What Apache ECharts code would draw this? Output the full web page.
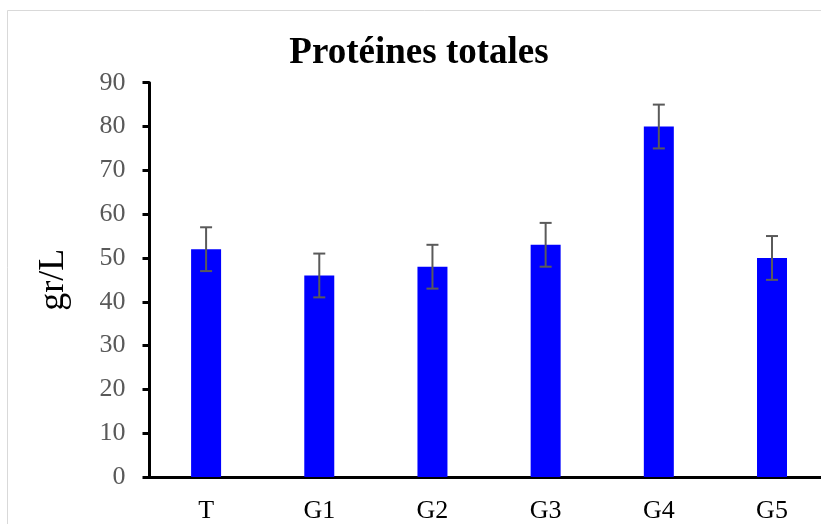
<!DOCTYPE html>
<html>
<head>
<meta charset="utf-8">
<script src="https://cdn.jsdelivr.net/npm/echarts@6/dist/echarts.min.js"></script>
<style>
  html, body { margin: 0; padding: 0; background: #fff; overflow: hidden; }
  #chart { width: 840px; height: 524px; }
</style>
</head>
<body>
<div id="chart"></div>
<script>
// Total protein by group, mean ± error
const groups = ['T', 'G1', 'G2', 'G3', 'G4', 'G5'];
const means = [52, 46, 48, 53, 80, 50];
const errors = [5, 5, 5, 5, 5, 5];
const yTicks = [0, 10, 20, 30, 40, 50, 60, 70, 80, 90];

const serif = '"Liberation Serif", "Times New Roman", serif';

const errorData = groups.map((g, i) => [i, means[i] - errors[i], means[i] + errors[i]]);

const chart = echarts.init(document.getElementById('chart'));
chart.setOption({
  animation: false,
  backgroundColor: '#ffffff',
  title: {
    text: 'Protéines totales',
    left: 414,
    top: 30,
    textAlign: 'center',
    textStyle: { fontFamily: serif, fontSize: 37, fontWeight: 'bold', color: '#000' }
  },
  graphic: [{
    type: 'rect',
    shape: { x: 7.5, y: 10.5, width: 860, height: 540 },
    style: { fill: 'none', stroke: '#d9d9d9', lineWidth: 1 },
    silent: true
  }],
  grid: { left: 149.5, right: 11.4, top: 82.7, bottom: 46.5, containLabel: false },
  xAxis: {
    type: 'category',
    data: groups,
    axisLine: { lineStyle: { color: '#000', width: 3 } },
    axisTick: { show: false },
    axisLabel: { fontFamily: serif, fontSize: 26, color: '#000', margin: 21 }
  },
  yAxis: {
    type: 'value',
    min: yTicks[0],
    max: yTicks[yTicks.length - 1],
    interval: 10,
    name: 'gr/L',
    nameLocation: 'middle',
    nameGap: 78,
    nameRotate: 90,
    nameTextStyle: { fontFamily: serif, fontSize: 36, color: '#000' },
    axisLine: { show: true, lineStyle: { color: '#000', width: 3 } },
    axisTick: { show: true, length: 7, lineStyle: { color: '#000', width: 3 } },
    splitLine: { show: false },
    axisLabel: { fontFamily: serif, fontSize: 26, color: '#595959', margin: 24 }
  },
  series: [
    {
      type: 'bar',
      data: means,
      barWidth: '26.5%',
      itemStyle: { color: '#0000ff' }
    },
    {
      type: 'custom',
      data: errorData,
      z: 10,
      renderItem: function (params, api) {
        const x = api.value(0);
        const lo = api.coord([x, api.value(1)]);
        const hi = api.coord([x, api.value(2)]);
        const half = 6;
        const style = { stroke: '#5a5a5a', lineWidth: 2 };
        return {
          type: 'group',
          children: [
            { type: 'line', shape: { x1: hi[0], y1: hi[1], x2: lo[0], y2: lo[1] }, style: style },
            { type: 'line', shape: { x1: hi[0] - half, y1: hi[1], x2: hi[0] + half, y2: hi[1] }, style: style },
            { type: 'line', shape: { x1: lo[0] - half, y1: lo[1], x2: lo[0] + half, y2: lo[1] }, style: style }
          ]
        };
      }
    }
  ]
});
</script>
</body>
</html>
